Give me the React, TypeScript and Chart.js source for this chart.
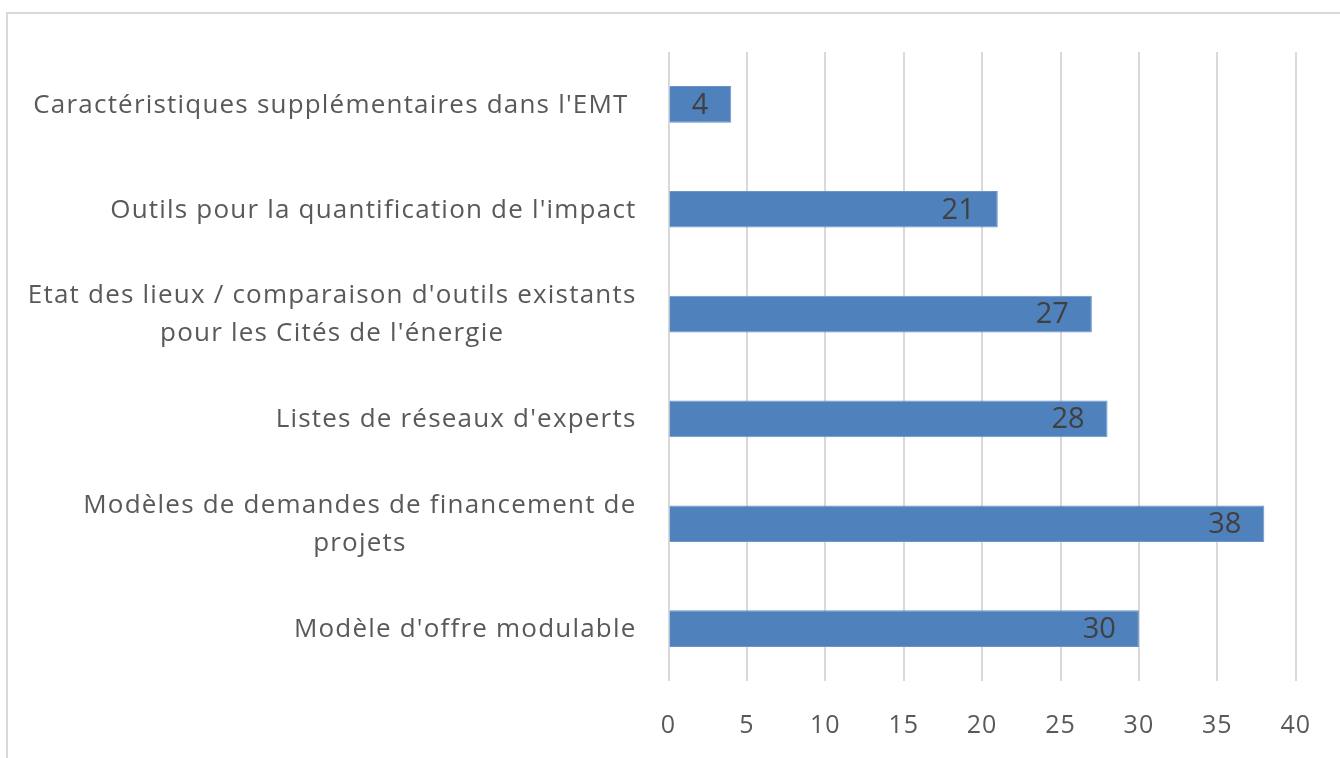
import React, { useEffect, useRef } from "react";
import { Chart, registerables } from "chart.js";

Chart.register(...registerables);

const categories: string[][] = [
  ["Caractéristiques supplémentaires dans l'EMT "],
  ["Outils pour la quantification de l'impact"],
  ["Etat des lieux / comparaison d'outils existants", "pour les Cités de l'énergie"],
  ["Listes de réseaux d'experts"],
  ["Modèles de demandes de financement de", "projets"],
  ["Modèle d'offre modulable"],
];
const values: number[] = [4, 21, 27, 28, 38, 30];
const xMin = 0;
const xMax = 40;
const xStep = 5;

const FONT = "'Open Sans', sans-serif";
const CAT_SIZE = 26;
const VAL_SIZE = 29;
const TICK_SIZE = 25;

const spacingPlugin = {
  id: "spacing",
  beforeDraw(chart: any) {
    chart.ctx.letterSpacing = "1px";
  },
};

const labelsPlugin = {
  id: "customLabels",
  afterDatasetsDraw(chart: any) {
    const ctx = chart.ctx;
    const yScale = chart.scales.y;
    const meta = chart.getDatasetMeta(0);
    ctx.save();
    ctx.textBaseline = "middle";
    // value labels inside end
    ctx.letterSpacing = "0px";
    ctx.font = `${VAL_SIZE}px ${FONT}`;
    meta.data.forEach((bar: any, i: number) => {
      ctx.fillStyle = "#404040";
      ctx.textAlign = "right";
      ctx.fillText(String(values[i]), bar.x - 23, bar.y + 1);
    });
    // category labels: right-aligned block, lines centered within it
    ctx.letterSpacing = "1.2px";
    ctx.font = `${CAT_SIZE}px ${FONT}`;
    const rightEdge = yScale.right - 32;
    const lineH = 38;
    categories.forEach((lines, i) => {
      const cy = yScale.getPixelForTick(i) + 1;
      const widths = lines.map((l) => ctx.measureText(l).width);
      const w = Math.max(...widths);
      ctx.fillStyle = "#595959";
      ctx.textAlign = "right";
      lines.forEach((l, j) => {
        const y = cy + (j - (lines.length - 1) / 2) * lineH;
        const lw = widths[j];
        ctx.fillText(l, rightEdge - (w - lw) / 2, y);
      });
    });
    ctx.restore();
  },
};

export default function App() {
  const ref = useRef<HTMLCanvasElement>(null);
  useEffect(() => {
    if (!ref.current) return;
    const chart = new Chart(ref.current, {
      type: "bar",
      data: {
        labels: categories.map((c) => c.join(" ")),
        datasets: [
          {
            data: values,
            backgroundColor: "#4f81bd",
            borderColor: "#6b95c8",
            borderWidth: 1,
            barPercentage: 0.7,
            categoryPercentage: 0.5,
          },
        ],
      },
      options: {
        indexAxis: "y",
        animation: false,
        responsive: false,
        maintainAspectRatio: false,
        layout: { padding: { top: 52, right: 41, bottom: 0, left: 0 } },
        plugins: {
          legend: { display: false },
          tooltip: { enabled: false },
        },
        scales: {
          x: {
            min: xMin,
            max: xMax,
            ticks: {
              stepSize: xStep,
              color: "#595959",
              font: { family: FONT, size: TICK_SIZE },
              padding: 30,
            },
            grid: { color: "#d9d9d9", lineWidth: 2, drawTicks: false },
            border: { display: false },
            afterFit: (s: any) => {
              s.height = 77;
            },
          },
          y: {
            ticks: { display: false },
            grid: { display: false },
            border: { display: false },
            afterFit: (s: any) => {
              s.width = 668.5;
            },
          },
        },
      },
      plugins: [spacingPlugin, labelsPlugin],
    });
    return () => chart.destroy();
  }, []);
  return (
    <div
      style={{
        position: "fixed",
        left: 0,
        top: 0,
        width: 1340,
        height: 758,
        background: "#fff",
        overflow: "hidden",
      }}
    >
      <div
        style={{
          position: "absolute",
          left: 6,
          top: 12,
          width: 1400,
          height: 800,
          borderLeft: "2px solid #d9d9d9",
          borderTop: "2px solid #d9d9d9",
        }}
      />
      <canvas
        ref={ref}
        width={1340}
        height={758}
        style={{ position: "absolute", left: 0, top: 0 }}
      />
    </div>
  );
}
